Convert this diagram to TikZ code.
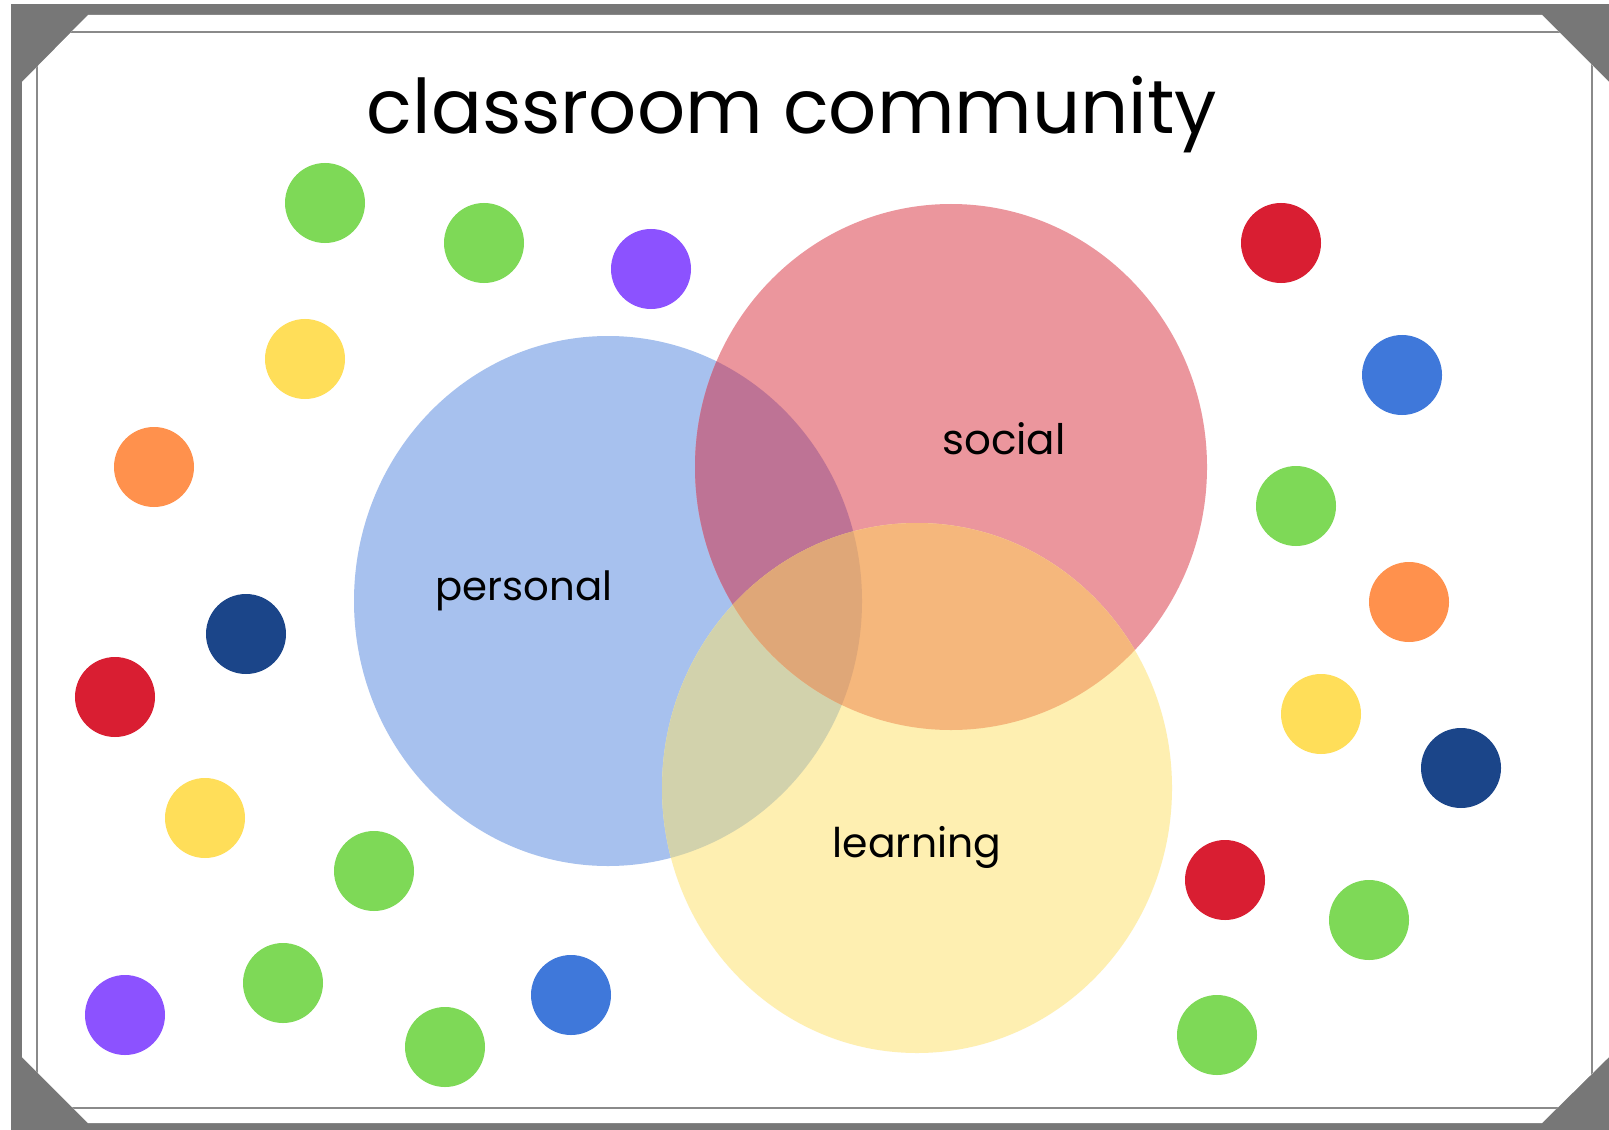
\documentclass[tikz,border=0pt]{standalone}
\usepackage{fontspec}
\setmainfont{Poppins}
\usepackage{graphicx}
\definecolor{framegray}{HTML}{777777}
\definecolor{linegray}{HTML}{8A8A8A}
\definecolor{vblue}{HTML}{A7C1EE}
\definecolor{vred}{HTML}{EB969D}
\definecolor{vyellow}{HTML}{FEEFB1}
\definecolor{vbr}{HTML}{BE7395}
\definecolor{vry}{HTML}{F5B77C}
\definecolor{vby}{HTML}{D2D2AC}
\definecolor{vbry}{HTML}{DFA778}
\definecolor{dgreen}{HTML}{7ED957}
\definecolor{dpurple}{HTML}{8C52FF}
\definecolor{dyellow}{HTML}{FFDE59}
\definecolor{dorange}{HTML}{FF914D}
\definecolor{dnavy}{HTML}{1B4589}
\definecolor{dred}{HTML}{D91E32}
\definecolor{dblue}{HTML}{3F78DA}
\begin{document}
\begin{tikzpicture}[x=0.03cm,y=-0.03cm,
  dot/.style={circle,minimum size=2.4cm,inner sep=0pt},
  lbl/.style={anchor=base,inner sep=0pt,text=black}]
\useasboundingbox (0,0) rectangle (1609,1130);
\clip (0,0) rectangle (1609,1130);
\fill[white] (0,0) rectangle (1609,1130);
% frame
\fill[framegray] (11,4) rectangle (1640,1160);
\def\board{(22,82)--(88,15)--(1542,15)--(1609,82)--(1640,82)--(1640,1057)--(1609,1057)--(1542,1123)--(88,1123)--(22,1057)--cycle}
\fill[white] \board;
\begin{scope}
  \clip \board;
  \draw[linegray,line width=0.06cm] (37,32) rectangle (1592,1108);
\end{scope}
% venn
\def\cB{(608,601) ellipse [x radius=254, y radius=265]}
\def\cR{(951,467) ellipse [x radius=256, y radius=263]}
\def\cY{(917,788) ellipse [x radius=255, y radius=265]}
\fill[vblue] \cB;
\fill[vred] \cR;
\fill[vyellow] \cY;
\begin{scope}\clip \cB; \fill[vbr] \cR; \fill[vby] \cY; \end{scope}
\begin{scope}\clip \cR; \fill[vry] \cY; \end{scope}
\begin{scope}\clip \cB; \clip \cR; \fill[vbry] \cY; \end{scope}
% dots
\foreach \n/\x/\y/\c in {
  d1/325/203/dgreen, d2/484/243/dgreen, d3/651/269/dpurple, d4/305/359/dyellow,
  d5/154/467/dorange, d6/246/634/dnavy, d7/115/697/dred, d8/205/818/dyellow,
  d9/374/871/dgreen, d10/283/983/dgreen, d11/125/1015/dpurple, d12/445/1047/dgreen,
  d13/571/995/dblue, d14/1281/243/dred, d15/1402/375/dblue, d16/1296/506/dgreen,
  d17/1409/602/dorange, d18/1321/714/dyellow, d19/1461/768/dnavy, d20/1225/880/dred,
  d21/1369/920/dgreen, d22/1217/1035/dgreen}
  \node[dot,fill=\c] (\n) at (\x,\y) {};
% texts
\node[lbl] (title) at (792,134) {\resizebox{25.5cm}{!}{classroom community}};
\node[lbl] (social) at (1004,454) {\resizebox{3.7cm}{!}{social}};
\node[lbl] (personal) at (524,600) {\resizebox{5.3cm}{!}{personal}};
\node[lbl] (learning) at (917,857) {\resizebox{5.05cm}{!}{learning}};
\end{tikzpicture}
\end{document}
